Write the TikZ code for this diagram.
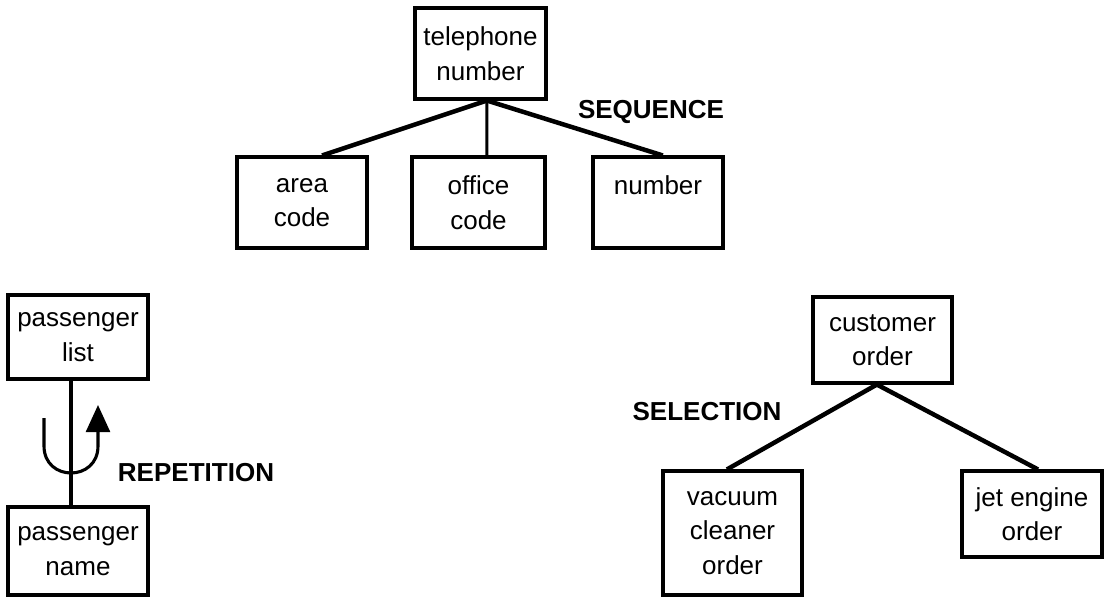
\documentclass[tikz,border=0pt]{standalone}
\usepackage{fontspec}
\setmainfont{Liberation Sans}
\usepackage{tikz}
\usetikzlibrary{arrows.meta}
\tikzset{
  box/.style={
    rectangle, draw=black, line width=2.2pt,
    inner sep=0pt, align=center,
    font=\fontsize{18.5}{24.5}\selectfont},
  sz/.style 2 args={minimum width=#1*0.025cm, minimum height=#2*0.025cm},
  tag/.style={inner sep=0pt, font=\bfseries\fontsize{18.5}{24.5}\selectfont},
  link/.style={line width=3.2pt},
  stem/.style={line width=2.2pt},
}

\begin{document}
\begin{tikzpicture}[x=0.025cm, y=-0.025cm]
  \useasboundingbox (0,0) rectangle (1114,598);

  % sequence
  \node[box, sz={131}{91}] (tel)    at (480.5,53.5)  {telephone\\number};
  \node[box, sz={130}{91}] (area)   at (302,202.5)   {area\\code};
  \node[box, sz={133}{91}] (office) at (478.5,202.5) {office\\code};
  \node[box, sz={130}{91}] (num)    at (658,202.5)   {number\\\phantom{x}};
  \node[tag] (seq) at (651,112) {SEQUENCE};

  \coordinate (tj) at ([xshift=0.16cm]tel.south);
  \draw[link] (tj) -- ([xshift=0.5cm]area.north);
  \draw[stem] (tj) -- ([xshift=0.21cm]office.north);
  \draw[link] (tj) -- ([xshift=0.12cm]num.north);

  % repetition
  \node[box, sz={140}{84}] (plist) at (78,337) {passenger\\list};
  \node[box, sz={140}{88}] (pname) at (78,551) {passenger\\name};
  \node[tag] (rep) at (196,473) {REPETITION};

  \draw[stem] ([xshift=-0.175cm]plist.south) -- ([xshift=-0.175cm]pname.north);
  \coordinate (ul) at (44,418);
  \coordinate (ur) at (98,405);
  \draw[stem, -{Triangle[length=0.68cm, width=0.6cm]}]
    (ul) -- (44,446) .. controls (44,482) and (98,482) .. (98,446) -- (ur);

  % selection
  \node[box, sz={139}{86}]  (cust) at (882.5,340) {customer\\order};
  \node[box, sz={139}{124}] (vac)  at (732.5,533) {vacuum\\cleaner\\order};
  \node[box, sz={140}{86}]  (jet)  at (1032,514)  {jet engine\\order};
  \node[tag] (sel) at (707,412) {SELECTION};

  \coordinate (cj) at ([xshift=-0.14cm]cust.south);
  \draw[link] (cj) -- ([xshift=-0.14cm]vac.north);
  \draw[link] (cj) -- ([xshift=0.15cm]jet.north);

\end{tikzpicture}
\end{document}
